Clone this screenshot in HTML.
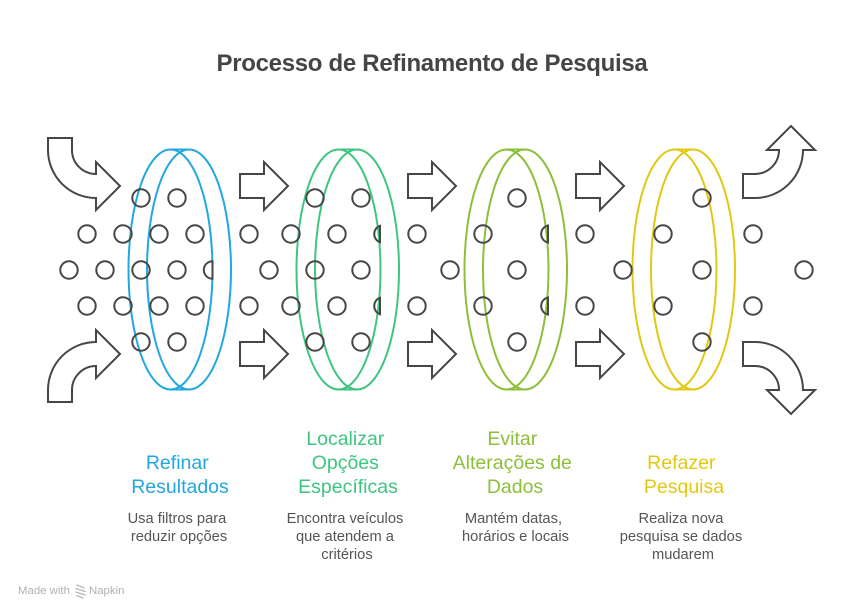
<!DOCTYPE html>
<html>
<head>
<meta charset="utf-8">
<style>
  html,body{margin:0;padding:0;background:#fff;}
  body{width:864px;height:612px;overflow:hidden;}
  svg{display:block;}
  .t{font-family:"Liberation Sans",Arial,sans-serif;}
</style>
</head>
<body>
<svg width="864" height="612" viewBox="0 0 864 612" xmlns="http://www.w3.org/2000/svg">
  <rect width="864" height="612" fill="#ffffff"/>

  <!-- Title -->
  <text class="t" x="432" y="71" text-anchor="middle" font-size="24" font-weight="bold" fill="#454545" letter-spacing="-0.3">Processo de Refinamento de Pesquisa</text>

  <defs>
    <path id="carrow" d="M48,138 H72 V150 A24,24 0 0 0 96,174 V162 L120,186 L96,210 V198 A48,48 0 0 1 48,150 Z"/>
    <path id="sarrow" d="M240,174 H264 V162 L288,186 L264,210 V198 H240 Z"/>
  </defs>

  <!-- Arrows -->
  <g fill="#ffffff" stroke="#464646" stroke-width="2" stroke-linejoin="miter">
    <use href="#carrow"/>
    <use href="#carrow" transform="matrix(1,0,0,-1,0,540)"/>
    <use href="#carrow" transform="matrix(0,-1,1,0,605,246)"/>
    <use href="#carrow" transform="matrix(0,1,1,0,605,294)"/>

    <use href="#sarrow"/>
    <use href="#sarrow" transform="matrix(1,0,0,-1,0,540)"/>
    <use href="#sarrow" transform="translate(168,0)"/>
    <use href="#sarrow" transform="matrix(1,0,0,-1,168,540)"/>
    <use href="#sarrow" transform="translate(336,0)"/>
    <use href="#sarrow" transform="matrix(1,0,0,-1,336,540)"/>
  </g>

  <!-- Filters (ellipses) -->
  <g fill="none" stroke-width="2">
    <g stroke="#22a7de">
      <ellipse cx="170.5" cy="269.5" rx="42" ry="120"/>
      <ellipse cx="189" cy="269.5" rx="42" ry="120"/>
      <line x1="170.5" y1="149.5" x2="189" y2="149.5"/>
      <line x1="170.5" y1="389.5" x2="189" y2="389.5"/>
    </g>
    <g stroke="#3ec582">
      <ellipse cx="338.5" cy="269.5" rx="42" ry="120"/>
      <ellipse cx="357" cy="269.5" rx="42" ry="120"/>
      <line x1="338.5" y1="149.5" x2="357" y2="149.5"/>
      <line x1="338.5" y1="389.5" x2="357" y2="389.5"/>
    </g>
    <g stroke="#8cbf3a">
      <ellipse cx="506.5" cy="269.5" rx="42" ry="120"/>
      <ellipse cx="525" cy="269.5" rx="42" ry="120"/>
      <line x1="506.5" y1="149.5" x2="525" y2="149.5"/>
      <line x1="506.5" y1="389.5" x2="525" y2="389.5"/>
    </g>
    <g stroke="#e1c812">
      <ellipse cx="674.5" cy="269.5" rx="42" ry="120"/>
      <ellipse cx="693" cy="269.5" rx="42" ry="120"/>
      <line x1="674.5" y1="149.5" x2="693" y2="149.5"/>
      <line x1="674.5" y1="389.5" x2="693" y2="389.5"/>
    </g>
  </g>

  <!-- Particles (circles) -->
  <g fill="none" stroke="#474747" stroke-width="2">
    <!-- row 198 -->
    <circle cx="141" cy="198" r="8.7"/>
    <circle cx="177" cy="198" r="8.7"/>
    <circle cx="315" cy="198" r="8.7"/>
    <circle cx="361" cy="198" r="8.7"/>
    <circle cx="517" cy="198" r="8.7"/>
    <circle cx="702" cy="198" r="8.7"/>
    <!-- row 342 -->
    <circle cx="141" cy="342" r="8.7"/>
    <circle cx="177" cy="342" r="8.7"/>
    <circle cx="315" cy="342" r="8.7"/>
    <circle cx="361" cy="342" r="8.7"/>
    <circle cx="517" cy="342" r="8.7"/>
    <circle cx="702" cy="342" r="8.7"/>
    <!-- row 234 -->
    <circle cx="87" cy="234" r="8.7"/>
    <circle cx="123" cy="234" r="8.7"/>
    <circle cx="159" cy="234" r="8.7"/>
    <circle cx="195" cy="234" r="8.7"/>
    <circle cx="249" cy="234" r="8.7"/>
    <circle cx="291" cy="234" r="8.7"/>
    <circle cx="337" cy="234" r="8.7"/>
    <circle cx="417" cy="234" r="8.7"/>
    <circle cx="483" cy="234" r="8.7"/>
    <circle cx="585" cy="234" r="8.7"/>
    <circle cx="663" cy="234" r="8.7"/>
    <circle cx="753" cy="234" r="8.7"/>
    <!-- row 306 -->
    <circle cx="87" cy="306" r="8.7"/>
    <circle cx="123" cy="306" r="8.7"/>
    <circle cx="159" cy="306" r="8.7"/>
    <circle cx="195" cy="306" r="8.7"/>
    <circle cx="249" cy="306" r="8.7"/>
    <circle cx="291" cy="306" r="8.7"/>
    <circle cx="337" cy="306" r="8.7"/>
    <circle cx="417" cy="306" r="8.7"/>
    <circle cx="483" cy="306" r="8.7"/>
    <circle cx="585" cy="306" r="8.7"/>
    <circle cx="663" cy="306" r="8.7"/>
    <circle cx="753" cy="306" r="8.7"/>
    <!-- row 270 -->
    <circle cx="69" cy="270" r="8.7"/>
    <circle cx="105" cy="270" r="8.7"/>
    <circle cx="141" cy="270" r="8.7"/>
    <circle cx="177" cy="270" r="8.7"/>
    <circle cx="269" cy="270" r="8.7"/>
    <circle cx="315" cy="270" r="8.7"/>
    <circle cx="361" cy="270" r="8.7"/>
    <circle cx="450" cy="270" r="8.7"/>
    <circle cx="517" cy="270" r="8.7"/>
    <circle cx="623" cy="270" r="8.7"/>
    <circle cx="702" cy="270" r="8.7"/>
    <circle cx="804" cy="270" r="8.7"/>
    <!-- partial (clipped) circles -->
    <path d="M212.5,261.3 A8.7,8.7 0 0 0 212.5,278.7 Z"/>
    <path d="M380,225.8 A8.7,8.7 0 0 0 380,242.2 Z"/>
    <path d="M380,297.8 A8.7,8.7 0 0 0 380,314.2 Z"/>
    <path d="M548,225.5 A8.7,8.7 0 0 0 548,242.5 Z"/>
    <path d="M548,297.5 A8.7,8.7 0 0 0 548,314.5 Z"/>
  </g>

  <!-- Labels -->
  <g class="t" font-size="19.5" text-anchor="middle">
    <text fill="#22a7de">
      <tspan x="180" y="469">Refinar</tspan>
      <tspan x="180" y="493">Resultados</tspan>
    </text>
    <text fill="#3ec582">
      <tspan x="348" y="445">Localizar</tspan>
      <tspan x="348" y="469">Opções</tspan>
      <tspan x="348" y="493">Específicas</tspan>
    </text>
    <text fill="#8cbf3a">
      <tspan x="515" y="445">Evitar</tspan>
      <tspan x="515" y="469">Alterações de</tspan>
      <tspan x="515" y="493">Dados</tspan>
    </text>
    <text fill="#e1c812">
      <tspan x="684" y="469">Refazer</tspan>
      <tspan x="684" y="493">Pesquisa</tspan>
    </text>
  </g>

  <!-- Descriptions -->
  <g class="t" font-size="14.7" text-anchor="middle" fill="#555555">
    <text>
      <tspan x="179" y="523">Usa filtros para</tspan>
      <tspan x="179" y="541">reduzir opções</tspan>
    </text>
    <text>
      <tspan x="347" y="523">Encontra veículos</tspan>
      <tspan x="347" y="541">que atendem a</tspan>
      <tspan x="347" y="559">critérios</tspan>
    </text>
    <text>
      <tspan x="515.5" y="523">Mantém datas,</tspan>
      <tspan x="515.5" y="541">horários e locais</tspan>
    </text>
    <text>
      <tspan x="683" y="523">Realiza nova</tspan>
      <tspan x="683" y="541">pesquisa se dados</tspan>
      <tspan x="683" y="559">mudarem</tspan>
    </text>
  </g>

  <!-- Footer -->
  <text class="t" x="18" y="594" font-size="11.4" fill="#b0b0b0">Made with</text>
  <g stroke="#b8b8b8" stroke-width="1.4" fill="none" stroke-linecap="round">
    <path d="M77,585 L84,588"/>
    <path d="M76,588.5 L85,591.5"/>
    <path d="M76,592 L85,595"/>
    <path d="M77,595.5 L83,598"/>
  </g>
  <text class="t" x="89" y="594" font-size="11.4" fill="#b0b0b0">Napkin</text>
</svg>
</body>
</html>
